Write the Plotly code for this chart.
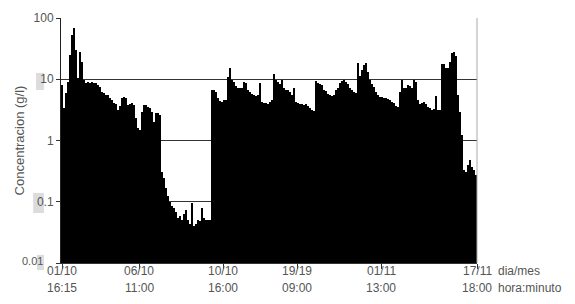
import plotly.graph_objects as go

# Concentration (g/l), one bar per sample, grouped by the date intervals of the x axis
conc_0110_0610 = [8.1, 3.4, 6.0, 9.0, 24.9, 52.8, 68.7, 30.0, 10.5, 27.9,
                  19.1, 9.7, 8.7, 9.0, 8.7, 9.0, 8.7, 8.7, 8.1, 7.5,
                  6.2, 6.0, 5.5, 5.5, 4.9, 4.6, 4.1, 3.9, 3.1, 3.7,
                  4.9, 5.1, 4.9, 3.8, 3.9, 4.1, 3.8, 2.3, 1.6]
conc_0610_1010 = [1.5, 2.9, 3.8, 3.8, 3.5, 3.4, 2.9, 2.0, 2.8, 2.8,
                  2.6, 0.31, 0.24, 0.17, 0.124, 0.099, 0.085, 0.079, 0.068, 0.054,
                  0.059, 0.050, 0.063, 0.073, 0.050, 0.043, 0.095, 0.040, 0.043, 0.050,
                  0.048, 0.079, 0.054, 0.050, 0.050, 0.050, 6.7, 6.7, 6.2, 4.9,
                  4.4, 4.3]
conc_1010_1910 = [4.6, 4.6, 10.9, 15.3, 9.7, 9.0, 7.8, 7.2, 7.2, 7.2,
                  9.0, 8.7, 6.7, 6.2, 5.7, 5.5, 5.3, 5.5, 8.7, 4.3,
                  4.1, 4.1, 3.9, 4.3, 4.6, 12.2, 9.7, 9.0, 8.4, 9.7,
                  7.2, 6.7, 6.7, 6.2, 5.5, 7.2, 4.3]
conc_1910_0111 = [4.1, 3.9, 3.9, 3.8, 3.9, 3.7, 3.4, 3.1, 3.0, 9.4,
                  8.7, 8.4, 8.1, 6.7, 6.4, 5.7, 5.5, 5.3, 5.5, 6.7,
                  7.2, 8.7, 9.4, 9.7, 9.0, 8.4, 7.2, 6.7, 6.2, 6.0,
                  18.4, 11.3, 14.2, 17.1, 18.4, 13.1, 9.7, 8.4, 7.5, 6.2,
                  5.5, 5.1]
conc_0111_1711 = [5.1, 4.9, 4.9, 4.8, 4.6, 4.3, 4.1, 3.7, 3.5, 6.2,
                  9.7, 7.2, 7.2, 8.1, 7.8, 7.2, 9.7, 9.0, 4.6, 3.9,
                  4.1, 4.3, 3.9, 3.5, 3.4, 3.1, 3.3, 5.3, 3.1, 3.1,
                  17.7, 17.7, 15.3, 15.3, 19.1, 26.8, 27.9, 24.0, 5.5, 2.9,
                  1.23, 0.33, 0.31, 0.40, 0.48, 0.37, 0.33, 0.27]

concentration = (conc_0110_0610 + conc_0610_1010 + conc_1010_1910
                 + conc_1910_0111 + conc_0111_1711)
sample_index = list(range(len(concentration)))

tick_index = [0, 38.5, 80.5, 117.5, 159.5, 207.5]
tick_dates = ["01/10", "06/10", "10/10", "19/19", "01/11", "17/11"]
tick_times = ["16:15", "11:00", "16:00", "09:00", "13:00", "18:00"]
y_tick_vals = [0.01, 0.1, 1, 10, 100]
y_tick_text = ["", "0.1", "1", "10", "100"]
y_bottom_label = "0.01"

font_family = "Liberation Sans, Arial, sans-serif"
text_color = "#555555"
fs = 12

annotations = []
for xi, d, t in zip(tick_index, tick_dates, tick_times):
    annotations.append(dict(text=d, xref="x", yref="paper", x=xi, y=-0.033,
                            xanchor="center", yanchor="middle", showarrow=False,
                            font=dict(size=fs, color=text_color)))
    annotations.append(dict(text=t, xref="x", yref="paper", x=xi, y=-0.102,
                            xanchor="center", yanchor="middle", showarrow=False,
                            font=dict(size=fs, color=text_color)))
annotations.append(dict(text="dia/mes", xref="paper", yref="paper", x=1.046, y=-0.033,
                        xanchor="left", yanchor="middle", showarrow=False,
                        font=dict(size=fs, color=text_color)))
annotations.append(dict(text="hora:minuto", xref="paper", yref="paper", x=1.046, y=-0.102,
                        xanchor="left", yanchor="middle", showarrow=False,
                        font=dict(size=fs, color=text_color)))
annotations.append(dict(text=y_bottom_label, xref="paper", yref="paper", x=-0.038, y=0.008,
                        xanchor="right", yanchor="middle", showarrow=False,
                        font=dict(size=11, color=text_color)))

fig = go.Figure()
fig.add_trace(go.Bar(
    x=sample_index, y=concentration,
    marker=dict(color="black", line=dict(width=0)),
    hoverinfo="x+y", showlegend=False,
))

fig.update_layout(
    width=567, height=296,
    margin=dict(l=53, r=98, t=10, b=41, autoexpand=False),
    paper_bgcolor="white", plot_bgcolor="white",
    bargap=0,
    font=dict(family=font_family, size=fs, color=text_color),
    xaxis=dict(
        automargin=False,
        range=[-0.5, len(concentration) - 0.5],
        tickmode="array", tickvals=tick_index, showticklabels=False,
        ticks="outside", ticklen=5, tickcolor="#333", tickwidth=1,
        showline=True, linecolor="#333", linewidth=1,
        showgrid=False, zeroline=False,
    ),
    yaxis=dict(
        automargin=False,
        type="log", range=[-2, 2],
        tickmode="array", tickvals=y_tick_vals, ticktext=y_tick_text,
        ticks="outside", ticklen=4, tickcolor="#333",
        showline=True, linecolor="#222", linewidth=1,
        showgrid=True, gridcolor="#333", gridwidth=1,
        zeroline=False,
        title=dict(text="Concentracion (g/l)", font=dict(size=13, color=text_color), standoff=6),
        tickfont=dict(size=fs, color=text_color),
    ),
    shapes=[
        dict(type="line", xref="paper", yref="paper", x0=1, x1=1, y0=0, y1=1,
             line=dict(color="#aaa", width=1)),
        dict(type="rect", xref="paper", yref="paper", x0=-0.060, x1=-0.041, y0=0.706, y1=0.776,
             fillcolor="#dcdcdc", line=dict(width=0), layer="below"),
        dict(type="rect", xref="paper", yref="paper", x0=-0.067, x1=-0.041, y0=0.204, y1=0.286,
             fillcolor="#dcdcdc", line=dict(width=0), layer="below"),
        dict(type="rect", xref="paper", yref="paper", x0=-0.058, x1=-0.041, y0=-0.029, y1=0.033,
             fillcolor="#dcdcdc", line=dict(width=0), layer="below"),
    ],
    annotations=annotations,
)

fig.write_html("out.html")
